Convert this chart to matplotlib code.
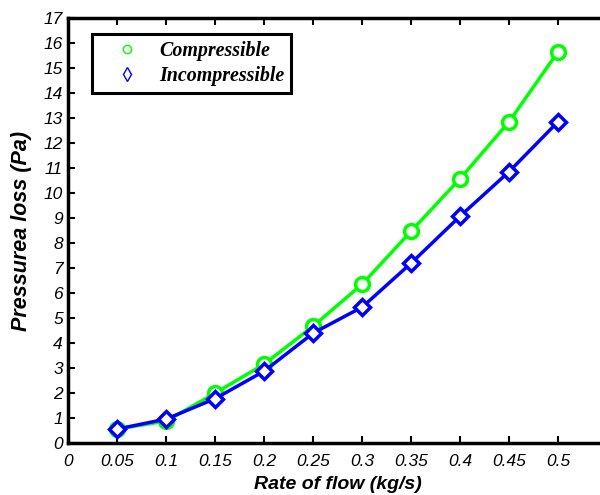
import matplotlib
matplotlib.use("Agg")
import matplotlib.pyplot as plt
from matplotlib.lines import Line2D

flow = [0.05, 0.1, 0.15, 0.2, 0.25, 0.3, 0.35, 0.4, 0.45, 0.5]
compressible = [0.56, 0.88, 2.0, 3.16, 4.68, 6.36, 8.48, 10.58, 12.86, 15.66]
incompressible = [0.56, 0.96, 1.78, 2.88, 4.4, 5.44, 7.2, 9.08, 10.86, 12.86]
xticks = [0, 0.05, 0.1, 0.15, 0.2, 0.25, 0.3, 0.35, 0.4, 0.45, 0.5]
xtick_labels = ["0", "0.05", "0.1", "0.15", "0.2", "0.25", "0.3", "0.35", "0.4", "0.45", "0.5"]

plt.rcParams["font.family"] = "Liberation Sans"

fig = plt.figure(figsize=(6, 4.95), dpi=100)
ax = fig.add_axes([0.114, 0.105, 0.898, 0.8586])

ax.plot(flow, compressible, color="#00ff00", lw=2.5, marker="o", ms=10,
        mfc="white", mec="#00ff00", mew=2.5, zorder=3)
ax.plot(flow, incompressible, color="#0000ff", lw=2.5, marker="D", ms=8.5,
        mfc="white", mec="#0000ff", mew=2.5, zorder=4)

ax.set_xlim(0, 0.55)
ax.set_ylim(0, 17)
ax.set_xticks(xticks)
ax.set_xticklabels(xtick_labels)
ax.set_yticks(range(0, 18))
for lab in ax.get_xticklabels() + ax.get_yticklabels():
    lab.set_fontstyle("italic")
    lab.set_fontsize(12.5)
ax.tick_params(direction="in", length=5, width=1.5, top=True, right=True)
ax.tick_params(axis="x", pad=8)
ax.tick_params(axis="y", pad=4)
for sp in ax.spines.values():
    sp.set_linewidth(2.5)

ax.set_xlabel("Rate of flow (kg/s)", fontsize=14, fontweight="bold", fontstyle="italic", labelpad=5)
ax.set_ylabel("Pressurea loss (Pa)", fontsize=15.5, fontweight="bold", fontstyle="italic", labelpad=8)

handles = [
    Line2D([], [], ls="none", marker="o", ms=6, mfc="none", mec="#00ff00", mew=1),
    Line2D([], [], ls="none", marker="d", ms=7, mfc="none", mec="#0000ff", mew=1),
]
leg = ax.legend(handles, ["Compressible", "Incompressible"], loc="upper left",
                bbox_to_anchor=(0.044, 0.962), fancybox=False, framealpha=1,
                edgecolor="black", handlelength=2.8, handletextpad=0.2,
                borderpad=0.35, labelspacing=0.22, borderaxespad=0,
                prop={"family": "Liberation Serif", "weight": "bold", "style": "italic", "size": 14.4})
leg.get_frame().set_linewidth(2.2)

fig.savefig("out.png", dpi=100)
